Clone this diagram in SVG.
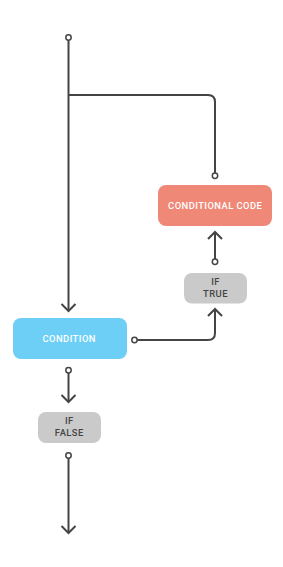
<svg xmlns="http://www.w3.org/2000/svg" width="283" height="567" viewBox="0 0 283 567">
<style>
.line{fill:none;stroke:#444;stroke-width:2}
.dot{fill:#fff;stroke:#444;stroke-width:1.5}
.lbl{font-family:Roboto,"Open Sans","DejaVu Sans",sans-serif;font-size:9.4px;font-weight:500;letter-spacing:0.45px;text-anchor:middle}
.w{fill:#fff}
.d{fill:#444}
</style>
<defs>
<marker id="arr" viewBox="-9 -9 11 18" markerWidth="11" markerHeight="18" refX="0" refY="0" orient="auto" markerUnits="userSpaceOnUse">
<path d="M-7,-7 L0,0 L-7,7" fill="none" stroke="#444" stroke-width="2"/>
</marker>
</defs>
<rect width="283" height="567" fill="#fff"/>
<g id="connectors">
<path class="line" d="M68.5,40 V311" marker-end="url(#arr)"/>
<path class="line" d="M68.5,95 H208 Q215,95 215,102 V173"/>
<path class="line" d="M137,340 H208 Q215,340 215,333 V309" marker-end="url(#arr)"/>
<path class="line" d="M215,259 V232" marker-end="url(#arr)"/>
<path class="line" d="M68.5,373 V402" marker-end="url(#arr)"/>
<path class="line" d="M68.5,458 V533" marker-end="url(#arr)"/>
<circle class="dot" cx="68.5" cy="37.5" r="2.7"/>
<circle class="dot" cx="215" cy="175.7" r="2.7"/>
<circle class="dot" cx="134.5" cy="340" r="2.7"/>
<circle class="dot" cx="215" cy="261.8" r="2.7"/>
<circle class="dot" cx="68.5" cy="370.3" r="2.7"/>
<circle class="dot" cx="68.5" cy="455.5" r="2.7"/>
</g>
<g id="conditional-code">
<rect x="158" y="185" width="114" height="41" rx="8" fill="#EF8877"/>
<text class="lbl w" x="215.2" y="209.3">CONDITIONAL CODE</text>
</g>
<g id="if-true">
<rect x="184" y="273" width="63" height="30.5" rx="8" fill="#CACACA"/>
<text class="lbl d" x="215.5" y="285.3">IF</text>
<text class="lbl d" x="215.5" y="297.3">TRUE</text>
</g>
<g id="condition">
<rect x="13" y="318" width="114" height="41" rx="8" fill="#6DCFF6"/>
<text class="lbl w" x="69.2" y="342.3">CONDITION</text>
</g>
<g id="if-false">
<rect x="38" y="412" width="63" height="31" rx="8" fill="#CACACA"/>
<text class="lbl d" x="69.3" y="424">IF</text>
<text class="lbl d" x="69.3" y="436">FALSE</text>
</g>
</svg>
